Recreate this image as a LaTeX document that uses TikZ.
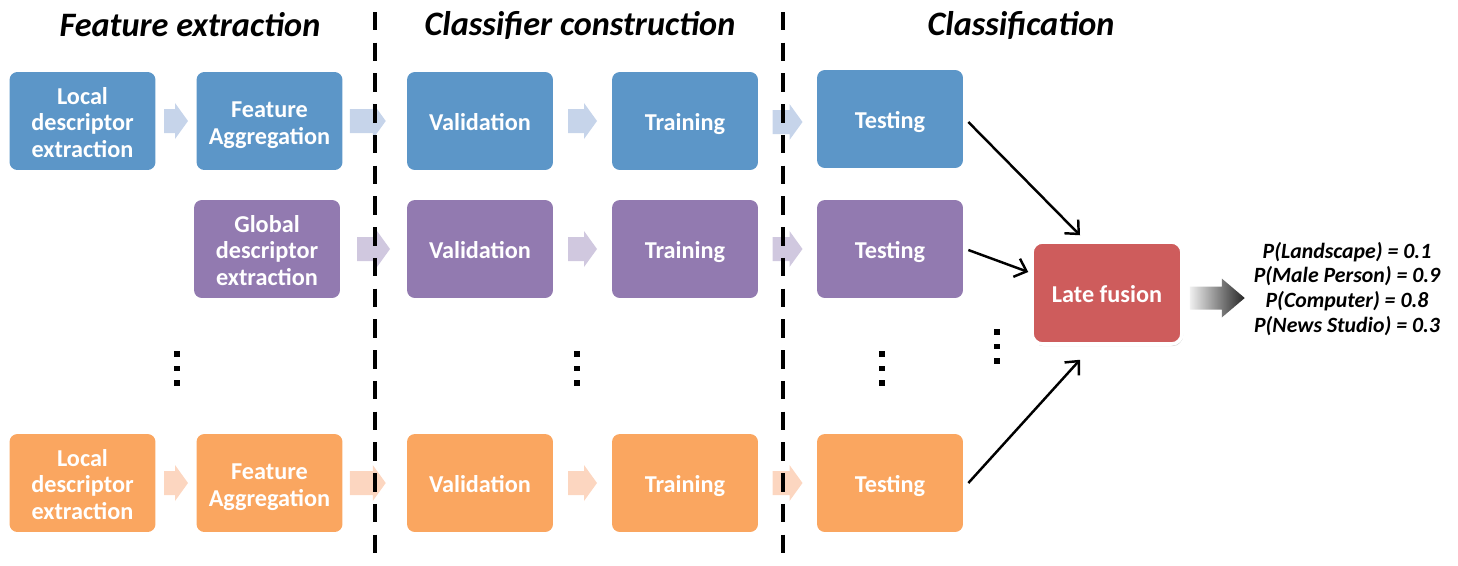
\documentclass[tikz,border=0pt]{standalone}
\usepackage{fontspec}
\setmainfont{Carlito}
\usetikzlibrary{calc,arrows.meta,shadows,positioning}
\definecolor{stageBlue}{RGB}{92,150,200}
\definecolor{stagePurple}{RGB}{146,122,176}
\definecolor{stageOrange}{RGB}{250,166,96}
\definecolor{fusionRed}{RGB}{206,92,92}
\definecolor{flowBlue}{RGB}{198,212,234}
\definecolor{flowPurple}{RGB}{208,200,223}
\definecolor{flowOrange}{RGB}{252,214,192}
% stage box text, set a little below the middle
\newcommand{\stagetxt}[1]{\raisebox{-6.2pt}[0pt][0pt]{\begin{tabular}{@{}c@{}}#1\end{tabular}}}

\begin{document}
\begin{tikzpicture}[x=0.02cm,y=-0.02cm,
  stage/.style={rectangle,rounded corners=4.5pt,minimum width=2.92cm,minimum height=1.96cm,
                text=white,inner sep=1pt,
                font=\fontsize{13.8}{15}\selectfont\bfseries},
  bstage/.style={stage,fill=stageBlue},
  pstage/.style={stage,fill=stagePurple},
  ostage/.style={stage,fill=stageOrange},
  fusion/.style={rectangle,rounded corners=6pt,fill=fusionRed,draw=white,line width=2pt,
                 minimum width=3.0cm,minimum height=2.04cm,text=white,
                 font=\fontsize{13.8}{15}\selectfont\bfseries,
                 drop shadow={shadow xshift=0.6pt,shadow yshift=-1.2pt,opacity=0.35}},
  title/.style={font=\fontsize{19.5}{22}\selectfont\bfseries\itshape},
  sep/.style={line width=2.3pt,dash pattern=on 10.5pt off 7pt},
  arr/.style={-{Straight Barb[length=6pt,width=11pt,line width=1.4pt]},line width=1.4pt},
  pics/fatarr/.style 2 args={code={
    \fill[#1] ({-#2/2},-12) -- ({#2/2-13},-12) -- ({#2/2-13},-18) -- ({#2/2},0)
      -- ({#2/2-13},18) -- ({#2/2-13},12) -- ({-#2/2},12) -- cycle;}}
]
  \useasboundingbox (0,0) rectangle (1458,565);

  % stage titles
  \node[title] (h1) at (190,25)  {Feature extraction};
  \node[title] (h2) at (580,25)  {Classifier construction};
  \node[title] (h3) at (1021,25) {Classification};

  % first pipeline (local descriptors)
  \node[bstage] (a1) at (82.5,121) {\stagetxt{Local\\descriptor\\extraction}};
  \node[bstage] (b1) at (269.5,121) {\stagetxt{Feature\\Aggregation}};
  \node[bstage] (c1) at (480,121) {\stagetxt{Validation}};
  \node[bstage] (d1) at (685,121) {\stagetxt{Training}};
  \node[bstage] (e1) at (890,119) {\stagetxt{Testing}};

  % second pipeline (global descriptors)
  \node[pstage] (b2) at (267,249) {\stagetxt{Global\\descriptor\\extraction}};
  \node[pstage] (c2) at (480,249) {\stagetxt{Validation}};
  \node[pstage] (d2) at (685,249) {\stagetxt{Training}};
  \node[pstage] (e2) at (890,249) {\stagetxt{Testing}};

  % last pipeline
  \node[ostage] (a3) at (82.5,483) {\stagetxt{Local\\descriptor\\extraction}};
  \node[ostage] (b3) at (269.5,483) {\stagetxt{Feature\\Aggregation}};
  \node[ostage] (c3) at (480,483) {\stagetxt{Validation}};
  \node[ostage] (d3) at (685,483) {\stagetxt{Training}};
  \node[ostage] (e3) at (890,483) {\stagetxt{Testing}};

  \node[fusion] (lf) at (1107,293) {\stagetxt{Late fusion}};

  % block arrows between stages
  \path ($(a1.east)!0.5!(b1.west)$) pic{fatarr={flowBlue}{24}};
  \path ($(b1.east)!0.5!(c1.west)+(-7,0)$) pic{fatarr={flowBlue}{36}};
  \path ($(c1.east)!0.5!(d1.west)$) pic{fatarr={flowBlue}{29}};
  \path ($(d1.east)!0.5!(e1.west)+(0,2)$) pic{fatarr={flowBlue}{30}};
  \path ($(b2.east)!0.5!(c2.west)$) pic{fatarr={flowPurple}{33}};
  \path ($(c2.east)!0.5!(d2.west)$) pic{fatarr={flowPurple}{29}};
  \path ($(d2.east)!0.5!(e2.west)$) pic{fatarr={flowPurple}{30}};
  \path ($(a3.east)!0.5!(b3.west)$) pic{fatarr={flowOrange}{24}};
  \path ($(b3.east)!0.5!(c3.west)+(-7,0)$) pic{fatarr={flowOrange}{36}};
  \path ($(c3.east)!0.5!(d3.west)$) pic{fatarr={flowOrange}{29}};
  \path ($(d3.east)!0.5!(e3.west)$) pic{fatarr={flowOrange}{30}};

  % stage separators
  \draw[sep] (375,12) -- (375,565);
  \draw[sep] (783,12) -- (783,565);

  % omitted pipelines
  \foreach \x/\y in {177/354,577/354,882/354,997/332}
    \foreach \k in {0,14.5,29}
      \fill (\x-2.6,\y+\k-2.6) rectangle (\x+2.6,\y+\k+2.6);

  % scores into the fusion step
  \draw[arr] ($(e1.east)+(5,3)$) -- ($(lf.north)+(-27,-5)$);
  \draw[arr] ($(e2.east)+(5,1)$) -- ($(lf.west)+(-2,-21)$);
  \draw[arr] ($(e3.east)+(5,0)$) -- ($(lf.south)+(-27,14)$);

  % output arrow
  \shade[left color=gray!12,right color=black!85]
    ($(lf.east)+(6,-6.5)$) -- ++(32,0) -- ++(0,-8) -- ++(23,19.5) -- ++(-23,19.5)
    -- ++(0,-8) -- ++(-32,0) -- cycle;

  \node[font=\fontsize{12.4}{14.2}\selectfont\bfseries\itshape,align=center] (out) at (1347,289)
    {P(Landscape) = 0.1\\P(Male Person) = 0.9\\P(Computer) = 0.8\\P(News Studio) = 0.3};
\end{tikzpicture}
\end{document}
